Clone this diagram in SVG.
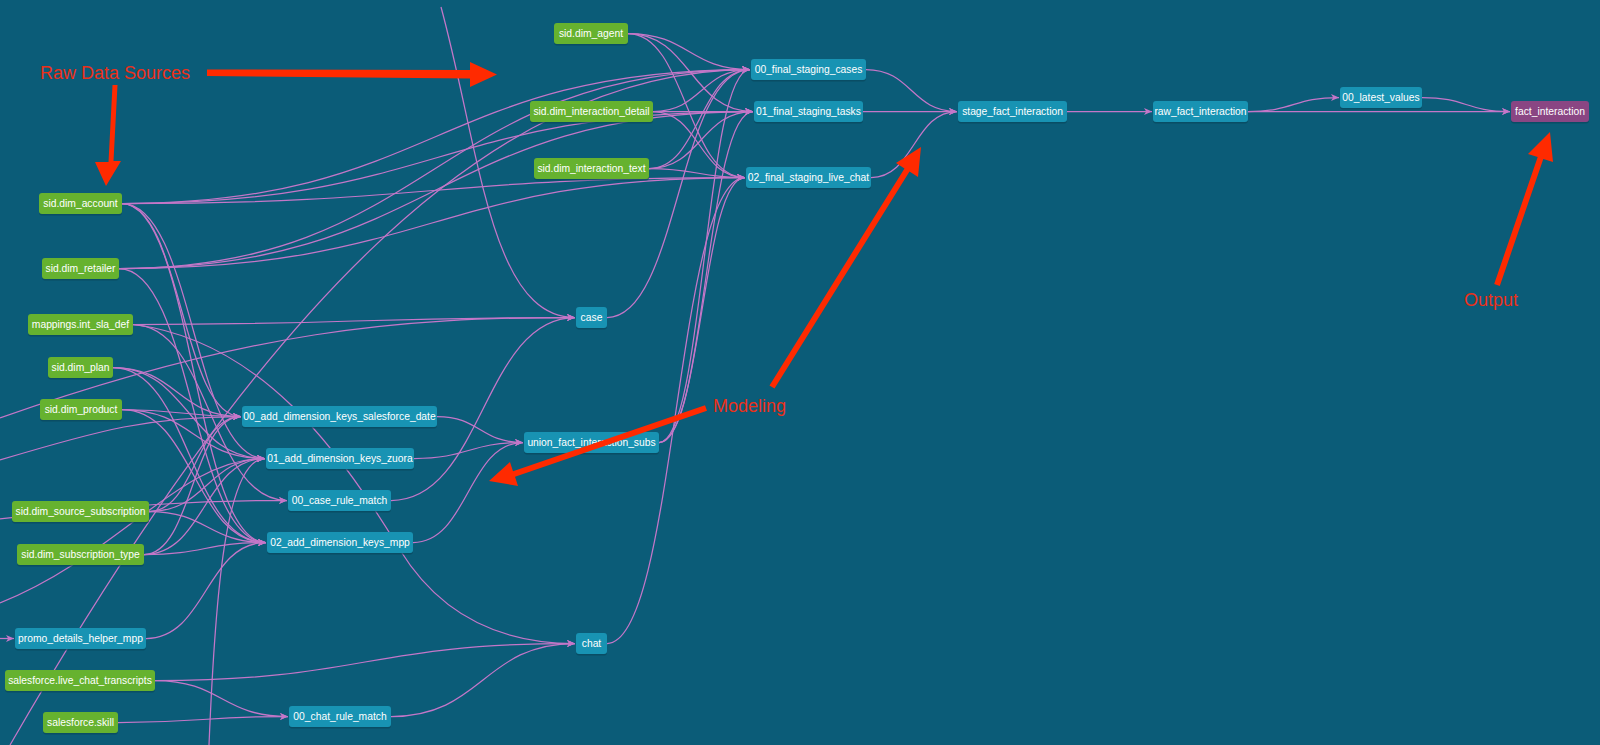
<svg xmlns="http://www.w3.org/2000/svg" width="1600" height="745" viewBox="0 0 1600 745">
<defs>
<style>
.e path{fill:none;stroke:#c477c8;stroke-width:1.25;marker-end:url(#ah)}
.n text{font-family:"Liberation Sans",Arial,Helvetica,sans-serif;font-size:10.3px;fill:#ffffff;text-anchor:middle}
.n .sh{fill:#08475c;opacity:0.7}
.src .b{fill:#66b22f}
.mdl .b{fill:#1893b3}
.out .b{fill:#8a4683}
.ann{fill:#ff2a00}
.lbl{font-family:"Liberation Sans",Arial,Helvetica,sans-serif;font-size:18px;fill:#ec3019}
</style>
<marker id="ah" viewBox="0 0 8 8" refX="8" refY="4" markerWidth="8" markerHeight="8" markerUnits="userSpaceOnUse" orient="auto">
<path d="M0,0.5 L8,4 L0,7.5 L2.2,4 z" fill="#c477c8"/>
</marker>
</defs>
<rect x="0" y="0" width="1600" height="745" fill="#0b5c78"/>

<g id="connectors" class="e">
<!-- into 00_final_staging_cases -->
<path d="M628,33.5 C689,33.5 689,69.5 750,69.5"/>
<path d="M653,111.5 C701.5,111.5 701.5,69.5 750,69.5"/>
<path d="M649,168.5 C699.5,168.5 699.5,69.5 750,69.5"/>
<path d="M122,203.5 C436,203.5 436,69.5 750,69.5"/>
<path d="M119,268.5 C434.5,268.5 434.5,69.5 750,69.5"/>
<path d="M607,317.5 C678.5,317.5 678.5,69.5 750,69.5"/>
<path d="M659,442.5 C704.5,442.5 704.5,69.5 750,69.5"/>
<path d="M10,745 C250,330 480,69.5 750,69.5"/>
<!-- into 01_final_staging_tasks -->
<path d="M628,33.5 C690.5,33.5 690.5,111.5 753,111.5"/>
<path d="M653,111.5 C703,111.5 703,111.5 753,111.5"/>
<path d="M649,168.5 C701,168.5 701,111.5 753,111.5"/>
<path d="M122,203.5 C437.5,203.5 437.5,111.5 753,111.5"/>
<path d="M119,268.5 C436,268.5 436,111.5 753,111.5"/>
<path d="M659,442.5 C706,442.5 706,111.5 753,111.5"/>
<!-- into 02_final_staging_live_chat -->
<path d="M628,33.5 C686.5,33.5 686.5,177.5 745,177.5"/>
<path d="M653,111.5 C699,111.5 699,177.5 745,177.5"/>
<path d="M649,168.5 C697,168.5 697,177.5 745,177.5"/>
<path d="M122,203.5 C433.5,203.5 433.5,177.5 745,177.5"/>
<path d="M119,268.5 C432,268.5 432,177.5 745,177.5"/>
<path d="M659,442.5 C702,442.5 702,177.5 745,177.5"/>
<path d="M607,643.5 C676,643.5 676,177.5 745,177.5"/>
<!-- into stage / raw / fact -->
<path d="M866,69.5 C911.5,69.5 911.5,111.5 957,111.5"/>
<path d="M863,111.5 C910,111.5 910,111.5 957,111.5"/>
<path d="M871,177.5 C914,177.5 914,111.5 957,111.5"/>
<path d="M1067,111.5 L1152,111.5"/>
<path d="M1248,111.5 L1510,111.5"/>
<path d="M1248,111.5 C1294,111.5 1294,97.5 1339,97.5"/>
<path d="M1422,97.5 C1466,97.5 1466,111.5 1510,111.5"/>
<!-- into case -->
<path d="M441,7 C480,150 490,317.5 575,317.5"/>
<path d="M0,418 C250,330 400,317.5 575,317.5"/>
<path d="M133,324.5 C354,324.5 354,317.5 575,317.5"/>
<path d="M391,500.5 C483,500.5 483,317.5 575,317.5"/>
<!-- into 00_add_dimension_keys_salesforce_date -->
<path d="M0,460 C100,430 150,416.5 241,416.5"/>
<path d="M122,203.5 C181.5,203.5 181.5,416.5 241,416.5"/>
<path d="M113,367.5 C177,367.5 177,416.5 241,416.5"/>
<path d="M122,409.5 C181.5,409.5 181.5,416.5 241,416.5"/>
<path d="M149,511.5 C195,511.5 195,416.5 241,416.5"/>
<path d="M144,554.5 C192.5,554.5 192.5,416.5 241,416.5"/>
<!-- into 01_add_dimension_keys_zuora -->
<path d="M122,203.5 C193.5,203.5 193.5,458.5 265,458.5"/>
<path d="M113,367.5 C189,367.5 189,458.5 265,458.5"/>
<path d="M122,409.5 C193.5,409.5 193.5,458.5 265,458.5"/>
<path d="M149,511.5 C207,511.5 207,458.5 265,458.5"/>
<path d="M144,554.5 C204.5,554.5 204.5,458.5 265,458.5"/>
<path d="M0,603 C120,555 180,458.5 265,458.5"/>
<path d="M209,745 C215,600 225,458.5 265,458.5"/>
<!-- into 00_case_rule_match -->
<path d="M133,324.5 C210,324.5 210,500.5 287,500.5"/>
<path d="M0,519 C120,505 200,500.5 287,500.5"/>
<!-- into 02_add_dimension_keys_mpp -->
<path d="M122,203.5 C194,203.5 194,542.5 266,542.5"/>
<path d="M119,268.5 C192.5,268.5 192.5,542.5 266,542.5"/>
<path d="M113,367.5 C189.5,367.5 189.5,542.5 266,542.5"/>
<path d="M122,409.5 C194,409.5 194,542.5 266,542.5"/>
<path d="M149,511.5 C207.5,511.5 207.5,542.5 266,542.5"/>
<path d="M144,554.5 C205,554.5 205,542.5 266,542.5"/>
<path d="M146,638.5 C206,638.5 206,542.5 266,542.5"/>
<!-- into promo_details_helper_mpp -->
<path d="M0,638.5 L14,638.5"/>
<!-- into union_fact_interaction_subs -->
<path d="M437,416.5 C480,416.5 480,442.5 523,442.5"/>
<path d="M414,458.5 C468.5,458.5 468.5,442.5 523,442.5"/>
<path d="M413,542.5 C468,542.5 468,442.5 523,442.5"/>
<!-- into chat -->
<path d="M133,324.5 C260,340 340,450 400,550 C440,615 500,643.5 575,643.5"/>
<path d="M155,680.5 C365,680.5 365,643.5 575,643.5"/>
<path d="M391,716.5 C483,716.5 483,643.5 575,643.5"/>
<!-- into 00_chat_rule_match -->
<path d="M155,680.5 C221.5,680.5 221.5,716.5 288,716.5"/>
<path d="M118,722.5 C203,722.5 203,716.5 288,716.5"/>
</g>

<g id="n-sid-dim-agent" class="n src"><rect class="sh" x="554" y="24.5" width="74" height="21" rx="3"/><rect class="b" x="554" y="23" width="74" height="21" rx="3"/><text x="591" y="37.2">sid.dim_agent</text></g>
<g id="n-sid-dim-interaction-detail" class="n src"><rect class="sh" x="530" y="102.5" width="123" height="21" rx="3"/><rect class="b" x="530" y="101" width="123" height="21" rx="3"/><text x="591.5" y="115.2">sid.dim_interaction_detail</text></g>
<g id="n-sid-dim-interaction-text" class="n src"><rect class="sh" x="534" y="159.5" width="115" height="21" rx="3"/><rect class="b" x="534" y="158" width="115" height="21" rx="3"/><text x="591.5" y="172.2">sid.dim_interaction_text</text></g>
<g id="n-sid-dim-account" class="n src"><rect class="sh" x="39" y="194.5" width="83" height="21" rx="3"/><rect class="b" x="39" y="193" width="83" height="21" rx="3"/><text x="80.5" y="207.2">sid.dim_account</text></g>
<g id="n-sid-dim-retailer" class="n src"><rect class="sh" x="42" y="259.5" width="77" height="21" rx="3"/><rect class="b" x="42" y="258" width="77" height="21" rx="3"/><text x="80.5" y="272.2">sid.dim_retailer</text></g>
<g id="n-mappings-int-sla-def" class="n src"><rect class="sh" x="28" y="315.5" width="105" height="21" rx="3"/><rect class="b" x="28" y="314" width="105" height="21" rx="3"/><text x="80.5" y="328.2">mappings.int_sla_def</text></g>
<g id="n-sid-dim-plan" class="n src"><rect class="sh" x="48" y="358.5" width="65" height="21" rx="3"/><rect class="b" x="48" y="357" width="65" height="21" rx="3"/><text x="80.5" y="371.2">sid.dim_plan</text></g>
<g id="n-sid-dim-product" class="n src"><rect class="sh" x="40" y="400.5" width="82" height="21" rx="3"/><rect class="b" x="40" y="399" width="82" height="21" rx="3"/><text x="81" y="413.2">sid.dim_product</text></g>
<g id="n-sid-dim-source-subscription" class="n src"><rect class="sh" x="12" y="502.5" width="137" height="21" rx="3"/><rect class="b" x="12" y="501" width="137" height="21" rx="3"/><text x="80.5" y="515.2">sid.dim_source_subscription</text></g>
<g id="n-sid-dim-subscription-type" class="n src"><rect class="sh" x="17" y="545.5" width="127" height="21" rx="3"/><rect class="b" x="17" y="544" width="127" height="21" rx="3"/><text x="80.5" y="558.2">sid.dim_subscription_type</text></g>
<g id="n-salesforce-live-chat-transcripts" class="n src"><rect class="sh" x="5" y="671.5" width="150" height="21" rx="3"/><rect class="b" x="5" y="670" width="150" height="21" rx="3"/><text x="80" y="684.2">salesforce.live_chat_transcripts</text></g>
<g id="n-salesforce-skill" class="n src"><rect class="sh" x="43" y="713.5" width="75" height="21" rx="3"/><rect class="b" x="43" y="712" width="75" height="21" rx="3"/><text x="80.5" y="726.2">salesforce.skill</text></g>

<g id="n-00-final-staging-cases" class="n mdl"><rect class="sh" x="751" y="60.5" width="115" height="21" rx="3"/><rect class="b" x="751" y="59" width="115" height="21" rx="3"/><text x="808.5" y="73.2">00_final_staging_cases</text></g>
<g id="n-01-final-staging-tasks" class="n mdl"><rect class="sh" x="754" y="102.5" width="109" height="21" rx="3"/><rect class="b" x="754" y="101" width="109" height="21" rx="3"/><text x="808.5" y="115.2">01_final_staging_tasks</text></g>
<g id="n-02-final-staging-live-chat" class="n mdl"><rect class="sh" x="746" y="168.5" width="125" height="21" rx="3"/><rect class="b" x="746" y="167" width="125" height="21" rx="3"/><text x="808.5" y="181.2">02_final_staging_live_chat</text></g>
<g id="n-stage-fact-interaction" class="n mdl"><rect class="sh" x="958" y="102.5" width="109" height="21" rx="3"/><rect class="b" x="958" y="101" width="109" height="21" rx="3"/><text x="1012.5" y="115.2">stage_fact_interaction</text></g>
<g id="n-raw-fact-interaction" class="n mdl"><rect class="sh" x="1153" y="102.5" width="95" height="21" rx="3"/><rect class="b" x="1153" y="101" width="95" height="21" rx="3"/><text x="1200.5" y="115.2">raw_fact_interaction</text></g>
<g id="n-00-latest-values" class="n mdl"><rect class="sh" x="1340" y="88.5" width="82" height="21" rx="3"/><rect class="b" x="1340" y="87" width="82" height="21" rx="3"/><text x="1381" y="101.2">00_latest_values</text></g>
<g id="n-fact-interaction" class="n out"><rect class="sh" x="1511" y="102.5" width="78" height="21" rx="3"/><rect class="b" x="1511" y="101" width="78" height="21" rx="3"/><text x="1550" y="115.2">fact_interaction</text></g>
<g id="n-case" class="n mdl"><rect class="sh" x="576" y="308.5" width="31" height="21" rx="3"/><rect class="b" x="576" y="307" width="31" height="21" rx="3"/><text x="591.5" y="321.2">case</text></g>
<g id="n-00-add-dimension-keys-salesforce-date" class="n mdl"><rect class="sh" x="242" y="407.5" width="195" height="21" rx="3"/><rect class="b" x="242" y="406" width="195" height="21" rx="3"/><text x="339.5" y="420.2">00_add_dimension_keys_salesforce_date</text></g>
<g id="n-01-add-dimension-keys-zuora" class="n mdl"><rect class="sh" x="266" y="449.5" width="148" height="21" rx="3"/><rect class="b" x="266" y="448" width="148" height="21" rx="3"/><text x="340" y="462.2">01_add_dimension_keys_zuora</text></g>
<g id="n-union-fact-interaction-subs" class="n mdl"><rect class="sh" x="524" y="433.5" width="135" height="21" rx="3"/><rect class="b" x="524" y="432" width="135" height="21" rx="3"/><text x="591.5" y="446.2">union_fact_interaction_subs</text></g>
<g id="n-00-case-rule-match" class="n mdl"><rect class="sh" x="288" y="491.5" width="103" height="21" rx="3"/><rect class="b" x="288" y="490" width="103" height="21" rx="3"/><text x="339.5" y="504.2">00_case_rule_match</text></g>
<g id="n-02-add-dimension-keys-mpp" class="n mdl"><rect class="sh" x="267" y="533.5" width="146" height="21" rx="3"/><rect class="b" x="267" y="532" width="146" height="21" rx="3"/><text x="340" y="546.2">02_add_dimension_keys_mpp</text></g>
<g id="n-chat" class="n mdl"><rect class="sh" x="576" y="634.5" width="31" height="21" rx="3"/><rect class="b" x="576" y="633" width="31" height="21" rx="3"/><text x="591.5" y="647.2">chat</text></g>
<g id="n-promo-details-helper-mpp" class="n mdl"><rect class="sh" x="15" y="629.5" width="131" height="21" rx="3"/><rect class="b" x="15" y="628" width="131" height="21" rx="3"/><text x="80.5" y="642.2">promo_details_helper_mpp</text></g>
<g id="n-00-chat-rule-match" class="n mdl"><rect class="sh" x="289" y="707.5" width="102" height="21" rx="3"/><rect class="b" x="289" y="706" width="102" height="21" rx="3"/><text x="340" y="720.2">00_chat_rule_match</text></g>

<g id="annotations">
<text class="lbl" x="40" y="78.5">Raw Data Sources</text>
<polygon class="ann" points="207,69.5 470,70 470,62 497,74.5 470,87 470,78.5 207,76"/>
<polygon class="ann" points="112.5,85 117.5,85 113.5,161 121,161 106,186 95,162 108.5,162"/>
<text class="lbl" x="713" y="411.5">Modeling</text>
<polygon class="ann" points="769.5,385.4 904.5,168.4 896,163 921,147 918,177 909.5,171.6 774.5,388.6"/>
<polygon class="ann" points="705,405.2 513,471.2 510,462 489,481 518,486 515,476.8 707,410.8"/>
<text class="lbl" x="1464" y="305.5">Output</text>
<polygon class="ann" points="1494.2,284 1537.7,157 1528,154 1550,132 1553,162 1543.3,159 1499.8,286"/>
</g>
</svg>
